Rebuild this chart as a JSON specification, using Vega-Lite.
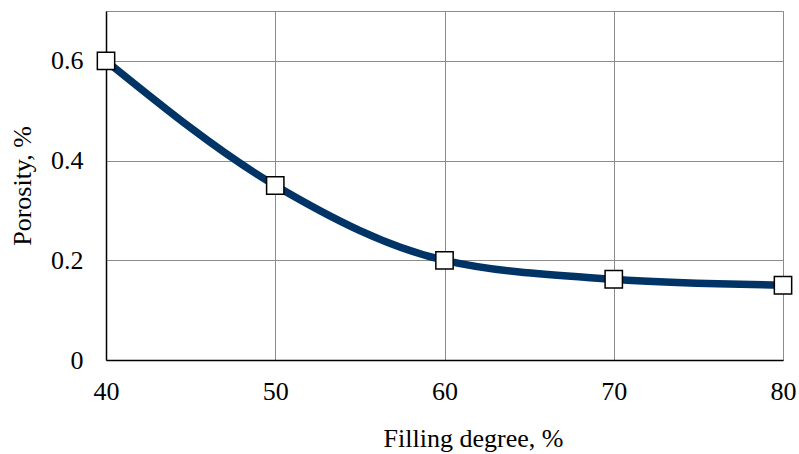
{
  "$schema": "https://vega.github.io/schema/vega-lite/v6.json",
  "autosize": {"type": "none"},
  "padding": {"left": 106, "top": 11, "right": 16, "bottom": 94},
  "width": 677,
  "height": 349,
  "background": "white",
  "config": {
    "view": {"stroke": "#8c8c8c", "strokeWidth": 1},
    "font": "'Liberation Serif', serif",
    "axis": {
      "labelFont": "'Liberation Serif', serif",
      "titleFont": "'Liberation Serif', serif",
      "labelFontSize": 26,
      "titleFontSize": 26,
      "labelColor": "black",
      "titleColor": "black",
      "titleFontWeight": "normal",
      "domainColor": "black",
      "domainWidth": 1.5,
      "gridColor": "#8c8c8c",
      "gridWidth": 1,
      "gridOpacity": 1,
      "ticks": false
    }
  },
  "data": {
    "values": [
      {"filling": 40, "porosity": 0.6},
      {"filling": 50, "porosity": 0.35},
      {"filling": 60, "porosity": 0.2},
      {"filling": 70, "porosity": 0.162},
      {"filling": 80, "porosity": 0.15}
    ]
  },
  "encoding": {
    "x": {
      "field": "filling",
      "type": "quantitative",
      "scale": {"domain": [40, 80], "nice": false, "zero": false},
      "axis": {
        "values": [40, 50, 60, 70, 80],
        "title": "Filling degree, %",
        "labelPadding": 18,
        "titlePadding": 21,
        "titleX": 367,
        "labelFlush": false
      }
    },
    "y": {
      "field": "porosity",
      "type": "quantitative",
      "scale": {"domain": [0, 0.7], "nice": false},
      "axis": {
        "values": [0, 0.2, 0.4, 0.6],
        "labelExpr": "datum.value == 0 ? '0' : format(datum.value, '.1f')",
        "title": "Porosity, %",
        "labelPadding": 23,
        "titlePadding": 15
      }
    }
  },
  "layer": [
    {
      "mark": {"type": "line", "color": "#003366", "strokeWidth": 7.5, "interpolate": "monotone"}
    },
    {
      "mark": {"type": "point", "shape": "square", "size": 300, "filled": true, "fill": "white", "stroke": "black", "strokeWidth": 1.5, "opacity": 1}
    }
  ]
}
